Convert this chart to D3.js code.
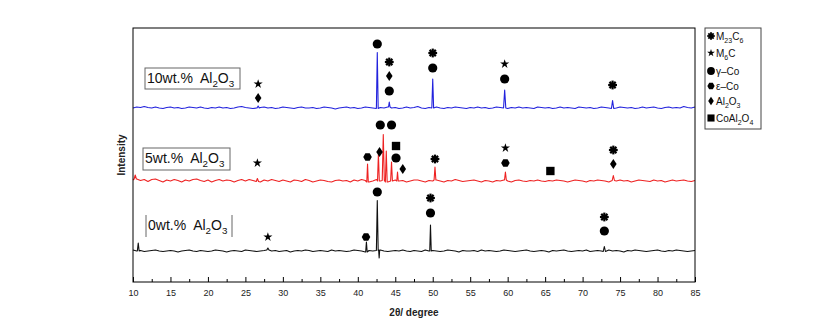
<!DOCTYPE html>
<html>
<head>
<meta charset="utf-8">
<script src="https://cdn.jsdelivr.net/npm/d3@7"></script>
<style>
  body { margin: 0; background: #fff; }
  text { font-family: "Liberation Sans", Arial, sans-serif; }
</style>
</head>
<body>
<div id="chart"></div>
<script>
// 2θ grid of the baseline readings
const startAngle = 10, step = 0.5;

// baseline wiggle (intensity units, one per 0.5°)
const noise0 = [
  1,0,0.5,-0.5,0,0.5,1,0,-0.5,0, 0.5,0,-1,0,0.5,1,0,-0.5,0.5,0,
  -0.5,0,1,0.5,0,-1,0,0.5,0,-0.5, 1,0.5,0,-0.5,0,0.5,1,0,0.5,-0.5,
  0,0.5,-1,0,0.5,0,1,0.5,-0.5,0, 0.5,0,-0.5,1,0,0.5,0,-0.5,0,1,
  0.5,0,-1,0.5,0,0.5,1,0,-0.5,0, 0.5,0,1,0,-0.5,0.5,0,-0.5,1,0,
  0.5,0,-0.5,0,1,0.5,0,-1,0.5,0, 0,0.5,-0.5,1,0,0.5,0,-0.5,0,1,
  0.5,0,-0.5,0,0.5,1,0,-0.5,0,0.5, 0,-1,0.5,0,0.5,1,0,-0.5,0,0.5,
  0,1,-0.5,0,0.5,0,-0.5,1,0,0.5, 0,-1,0.5,0,1,0.5,0,-0.5,0,0.5,
  1,0,-0.5,0.5,0,1,0.5,0,-0.5,0,0.5
];
const noise5 = [
  1,2,0.5,1.5,-0.5,1.5,2,0.5,-1,1, 0,1.5,0.5,-1,1,0,1.5,2,0.5,-0.5,
  1,-1,0.5,1.5,0,1,0.5,-1,0.5,1.5, 0,1.5,0.5,-0.5,-1,1,0,1.5,0.5,-0.5,
  1,0,-1,1,0.5,-0.5,1.5,0.5,-1,0, 1,0.5,-0.5,-1,0.5,1,0,0.5,-1,1,
  0,1.5,0.5,-1,0,1.5,0,0.5,-1,0, 1,0,0.5,-1,0,1,1,0,-1,0.5,
  0,1,0,-1,0.5,0,1.5,0.5,-0.5,0, 0.5,1,0,-1,0.5,0,-1,0.5,0,1,
  0,-1,0.5,1,0,-0.5,0.5,0,1,0, -0.5,0.5,0,1,0.5,0,-1,0,1,0.5,
  0,-1,0.5,0,1,0.5,0,-1,0.5,0, 1,0,0.5,-1,0,1,0.5,0,-0.5,1,
  0,0.5,-1,0,1,0,0.5,1,0,-0.5,0.5
];
const noise10 = [
  0,1,0.5,1.5,0.5,0,1,0,-0.5,0.5, 1,0,0.5,-0.5,0,1,0.5,0,1,0,
  -0.5,0.5,0,1,0,0.5,-0.5,0,1,1.5, 0.5,0,-0.5,0,0.5,1,0,0.5,-0.5,0,
  1,0.5,0,-0.5,0.5,1,0,0,0.5,-0.5, 0,1,0.5,0,-1,0,0.5,1,0,0.5,
  -0.5,0,1,0.5,0,-0.5,0.5,0,1,0, 0.5,-0.5,0,1,0,0.5,1.5,0,-0.5,0.5,
  0,1,0,-0.5,0.5,0,1,0.5,0,-0.5, 0.5,0,1,0,0.5,-0.5,0,1,0.5,0,
  -0.5,0.5,0,1,0,0.5,0,-0.5,1,0.5, 0,0.5,-0.5,0,1,0,0.5,0,-0.5,1,
  0.5,0,0.5,-0.5,0,1,0.5,0,-0.5,0, 1,0.5,0,0.5,-0.5,0,1,0,0.5,1,
  0,-0.5,0.5,1,0,0.5,0,1.5,0.5,0,1
];

// peaks: [2θ, height above baseline, half width in degrees]
const peaks0 = [[10.7, 8, 0.12], [28.0, 2, 0.15], [41.15, 10, 0.1], [42.6, 50, 0.12],
                [42.85, -8, 0.07], [49.7, 26, 0.1], [72.9, 5, 0.15]];
const peaks5 = [[10.3, 4, 0.15], [26.6, 3, 0.15], [41.3, 18, 0.1], [42.75, 27, 0.12],
                [43.4, 46, 0.14], [43.8, 31, 0.12], [44.5, 19, 0.12], [45.3, 9, 0.1],
                [50.3, 13, 0.12], [59.7, 8, 0.12], [74.1, 5, 0.15]];
const peaks10 = [[26.7, 2, 0.15], [42.6, 56, 0.12], [44.2, 5, 0.1], [50.0, 29, 0.12],
                 [59.6, 18, 0.15], [74.0, 8, 0.15]];

// stacked offsets of each pattern
const seriesNames = ["0wt.%  Al2O3", "5wt.%  Al2O3", "10wt.%  Al2O3"];
const seriesOffsets = [31, 101, 174];
const seriesColors = ["#111111", "#ee2222", "#2222dd"];

// phase markers: [2θ, intensity level, phase]
const marks = [
  // 10 wt.%
  [26.7, 198, "M6C"], [26.7, 184, "Al2O3"], [42.6, 238, "gCo"],
  [44.2, 220, "M23C6"], [44.2, 206, "Al2O3"], [44.2, 191, "gCo"],
  [50.0, 229, "M23C6"], [50.0, 214, "gCo"], [59.6, 218, "M6C"], [59.6, 203, "gCo"],
  [74.0, 197, "M23C6"],
  // 5 wt.%
  [26.6, 119, "M6C"], [41.3, 125, "eCo"], [42.9, 130, "Al2O3"], [43.0, 157, "gCo"],
  [44.5, 157, "gCo"], [45.1, 136, "CoAl2O4"], [45.1, 124, "gCo"], [46.0, 113, "Al2O3"],
  [50.3, 123, "M23C6"], [59.7, 134, "M6C"], [59.7, 119, "eCo"], [65.7, 111, "CoAl2O4"],
  [74.1, 132, "M23C6"], [74.1, 118, "Al2O3"],
  // 0 wt.%
  [28.0, 45, "M6C"], [41.1, 45, "eCo"], [42.6, 90, "gCo"],
  [49.7, 84, "M23C6"], [49.7, 69, "gCo"], [72.9, 65, "M23C6"], [72.9, 51, "gCo"]
];

const legendKeys = ["M23C6", "M6C", "gCo", "eCo", "Al2O3", "CoAl2O4"];
const legendLabels = ["M23C6", "M6C", "γ–Co", "ε–Co", "Al2O3", "CoAl2O4"];

const xTicks = d3.range(10, 86, 5);

const width = 813, height = 334;
const margin = { top: 28, right: 118, bottom: 52, left: 133 };
const w = width - margin.left - margin.right;
const h = height - margin.top - margin.bottom;

const svg = d3.select("#chart").append("svg")
  .attr("width", width).attr("height", height);
const g = svg.append("g").attr("transform", `translate(${margin.left},${margin.top})`);

const x = d3.scaleLinear().domain([10, 85]).range([0, w]);
const y = d3.scaleLinear().domain([0, h]).range([h, 0]);

function buildTrace(noise, peaks) {
  const pts = noise.map((v, i) => [startAngle + i * step, v])
    .filter(([a]) => !peaks.some(([c, , hw]) => a > c - hw - 0.02 && a < c + hw + 0.02));
  peaks.forEach(([c, ht, hw]) => {
    const b = noise[Math.round((c - startAngle) / step)];
    pts.push([c - hw, b], [c, b + ht], [c + hw, b]);
  });
  return pts.sort((p, q) => p[0] - q[0]);
}

const traces = [buildTrace(noise0, peaks0), buildTrace(noise5, peaks5), buildTrace(noise10, peaks10)];

traces.forEach((tr, i) => {
  const line = d3.line().x(d => x(d[0])).y(d => y(seriesOffsets[i] + d[1]));
  g.append("path").datum(tr)
    .attr("d", line).attr("fill", "none")
    .attr("stroke", seriesColors[i]).attr("stroke-width", 1.1)
    .attr("stroke-linejoin", "round");
});

// text with digits after letters set as subscripts
function formula(sel, str, size) {
  const parts = str.match(/\d+|\D+/g);
  let down = false;
  parts.forEach((p, k) => {
    const sub = /\d/.test(p) && k > 0 && /[A-Za-z]$/.test(parts[k - 1]);
    const t = sel.append("tspan").text(p);
    if (sub) { t.attr("dy", down ? 0 : size * 0.3).attr("font-size", size * 0.7); down = true; }
    else if (down) { t.attr("dy", -size * 0.3); down = false; }
  });
}

// phase symbols
function drawSymbol(sel, key, s) {
  if (key === "gCo") {
    sel.append("path").attr("d", d3.symbol(d3.symbolCircle, Math.PI * 4.6 * 4.6 * s * s)());
  } else if (key === "M6C") {
    sel.append("path").attr("d", d3.symbol(d3.symbolStar, 26 * s * s)());
  } else if (key === "CoAl2O4") {
    sel.append("path").attr("d", d3.symbol(d3.symbolSquare, 70 * s * s)());
  } else if (key === "eCo") {
    const r = 4.3 * s;
    const pts = d3.range(6).map(k => [r * Math.cos(k * Math.PI / 3), r * Math.sin(k * Math.PI / 3)]);
    sel.append("path").attr("d", "M" + pts.join("L") + "Z");
  } else if (key === "Al2O3") {
    sel.append("path").attr("d", `M0,${-5 * s}L${3.3 * s},0L0,${5 * s}L${-3.3 * s},0Z`);
  } else if (key === "M23C6") {
    const r = 4.4 * s;
    [0, 45, 90, 135].forEach(a => {
      const dx = r * Math.cos(a * Math.PI / 180), dy = r * Math.sin(a * Math.PI / 180);
      sel.append("line").attr("x1", -dx).attr("y1", -dy).attr("x2", dx).attr("y2", dy)
        .attr("stroke", "#000").attr("stroke-width", 2.2 * s);
    });
  }
}

marks.forEach(([a, lvl, key]) => {
  const m = g.append("g").attr("transform", `translate(${x(a)},${y(lvl)})`).attr("fill", "#000");
  drawSymbol(m, key, 1);
});

// sample labels
const labelBoxes = [
  { x: 13, y: 187, w: 86, h: 22, sides: true },
  { x: 10, y: 120, w: 87, h: 22, sides: false },
  { x: 12, y: 40, w: 95, h: 21, sides: false }
];
seriesNames.forEach((name, i) => {
  const b = labelBoxes[i];
  const lg = g.append("g").attr("transform", `translate(${b.x},${b.y})`);
  if (b.sides) {
    lg.append("line").attr("x1", 0).attr("x2", 0).attr("y1", 0).attr("y2", b.h).attr("stroke", "#666");
    lg.append("line").attr("x1", b.w).attr("x2", b.w).attr("y1", 0).attr("y2", b.h).attr("stroke", "#666");
  } else {
    lg.append("rect").attr("width", b.w).attr("height", b.h)
      .attr("fill", "#fff").attr("stroke", "#666").attr("stroke-width", 1);
  }
  const t = lg.append("text").attr("x", 2).attr("y", 15).attr("font-size", 14).attr("fill", "#111")
    .attr("xml:space", "preserve").style("white-space", "pre");
  formula(t, name, 14);
});

// frame
g.append("rect").attr("width", w).attr("height", h)
  .attr("fill", "none").attr("stroke", "#000").attr("stroke-width", 1);

// x axis, ticks pointing inward
const xAxis = g.append("g").attr("transform", `translate(0,${h})`)
  .call(d3.axisBottom(x).tickValues(xTicks).tickSizeInner(-5).tickSizeOuter(0).tickPadding(8));
xAxis.select(".domain").remove();
xAxis.selectAll("text").attr("font-size", 9).attr("fill", "#222")
  .attr("font-family", "'Liberation Sans Narrow', 'Liberation Sans', Arial, sans-serif");
const xMinor = g.append("g").attr("transform", `translate(0,${h})`)
  .call(d3.axisBottom(x).tickValues(d3.range(12.5, 85, 5)).tickSizeInner(-3).tickSizeOuter(0).tickFormat(""));
xMinor.select(".domain").remove();

svg.append("text").attr("x", margin.left + w / 2).attr("y", 316)
  .attr("text-anchor", "middle").attr("font-size", 10).attr("font-weight", "bold").attr("fill", "#222")
  .text("2θ/ degree");
svg.append("text").attr("transform", `translate(125,${margin.top + h / 2}) rotate(-90)`)
  .attr("text-anchor", "middle").attr("font-size", 10).attr("font-weight", "bold").attr("fill", "#222")
  .text("Intensity");

// legend
const leg = svg.append("g").attr("transform", "translate(705,28)");
leg.append("rect").attr("width", 56).attr("height", 101)
  .attr("fill", "#fff").attr("stroke", "#444").attr("stroke-width", 1);
const legY = [8, 25, 43, 58, 73, 90];
legendKeys.forEach((k, i) => {
  const row = leg.append("g").attr("transform", `translate(0,${legY[i]})`);
  drawSymbol(row.append("g").attr("transform", "translate(6,0)").attr("fill", "#000"), k, 0.85);
  const t = row.append("text").attr("x", 11).attr("y", 4).attr("font-size", 10).attr("fill", "#111");
  formula(t, legendLabels[i], 10);
});
</script>
</body>
</html>
